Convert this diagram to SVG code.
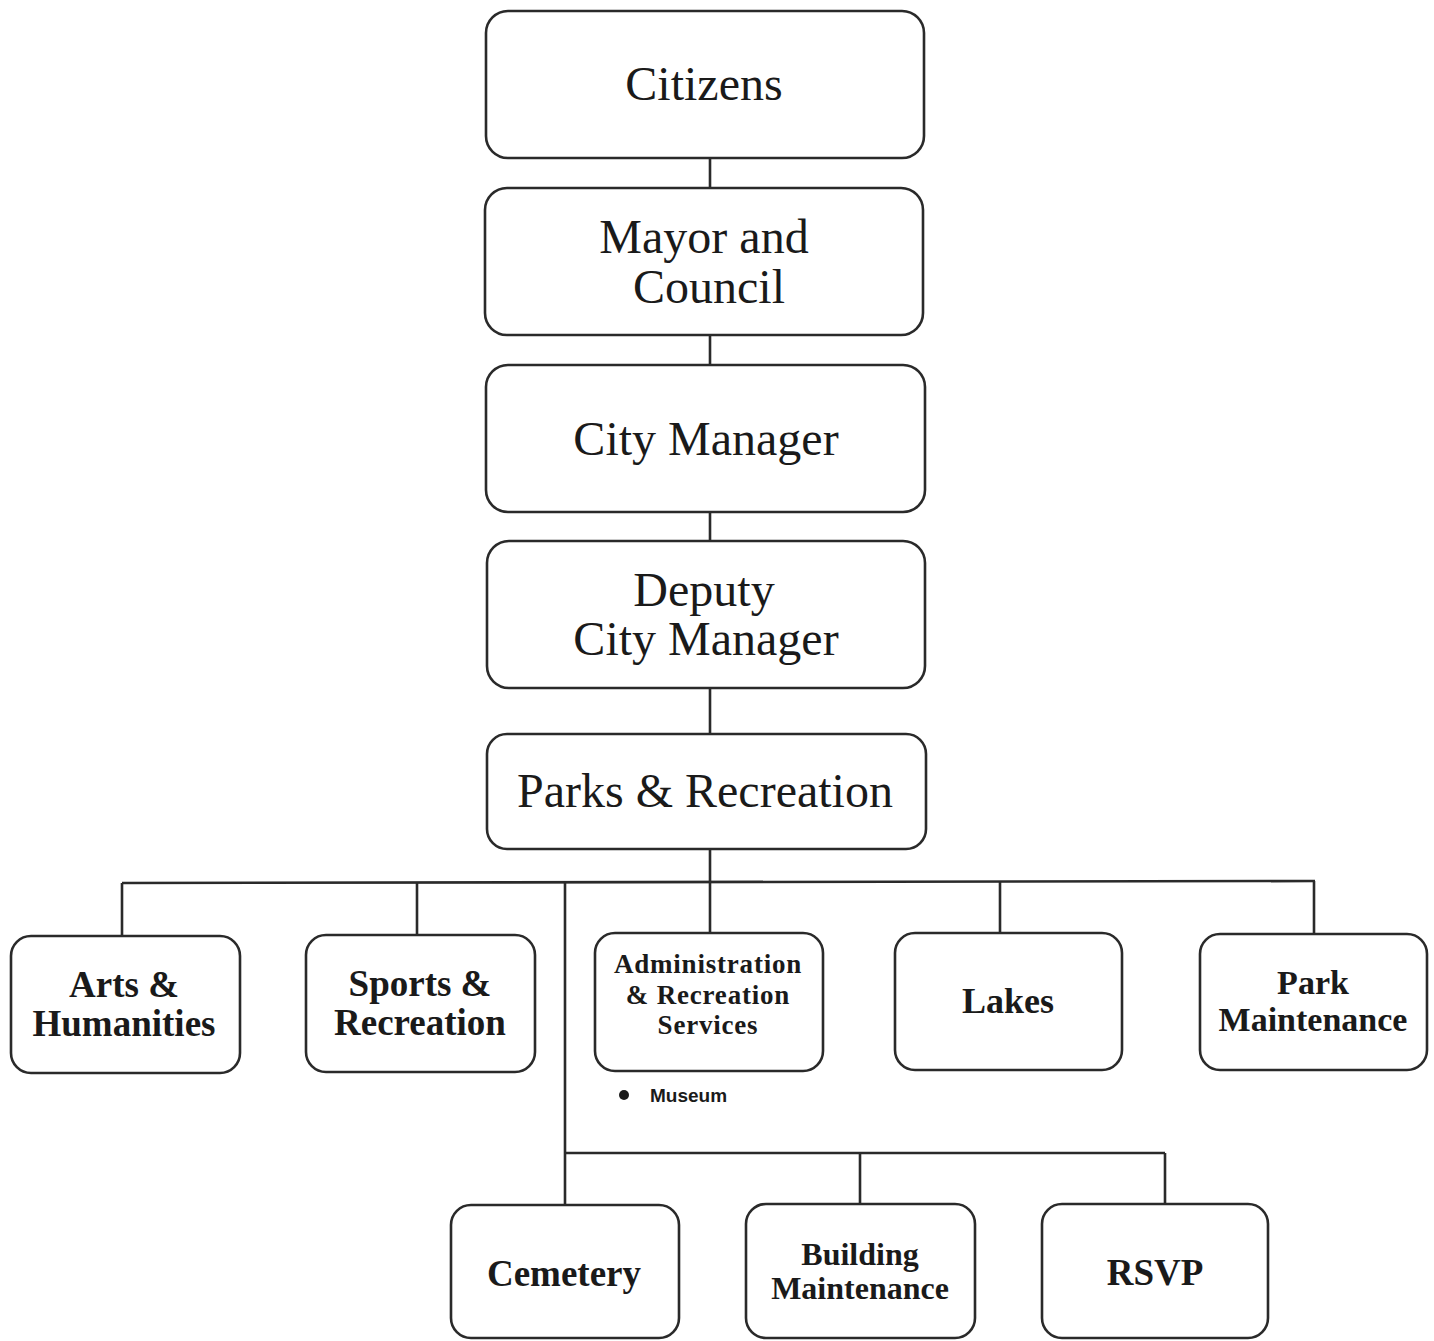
<svg xmlns="http://www.w3.org/2000/svg" width="1434" height="1341" viewBox="0 0 1434 1341">
  <style>
    .box { fill: #ffffff; stroke: #2a2a2a; stroke-width: 2.6; }
    .wire { fill: none; stroke: #2a2a2a; stroke-width: 2.6; }
    .top { font-family: "Liberation Serif", "Times New Roman", serif; font-size: 48px; fill: #1a1a1a; text-anchor: middle; }
    .sub { font-family: "Liberation Serif", "Times New Roman", serif; font-weight: bold; fill: #1a1a1a; text-anchor: middle; }
    .note { font-family: "Liberation Sans", Arial, sans-serif; font-weight: bold; font-size: 19px; fill: #1a1a1a; }
  </style>
  <rect width="1434" height="1341" fill="#ffffff"/>

  <!-- connectors -->
  <g id="connectors">
    <line class="wire" x1="710" y1="158" x2="710" y2="187"/>
    <line class="wire" x1="710" y1="335" x2="710" y2="365"/>
    <line class="wire" x1="710" y1="512" x2="710" y2="541"/>
    <line class="wire" x1="710" y1="688" x2="710" y2="734"/>
    <line class="wire" x1="710" y1="849" x2="710" y2="882"/>
    <!-- division bus -->
    <line class="wire" x1="122" y1="883" x2="1315" y2="881"/>
    <line class="wire" x1="122" y1="883" x2="122" y2="936"/>
    <line class="wire" x1="417" y1="883" x2="417" y2="935"/>
    <line class="wire" x1="710" y1="882" x2="710" y2="933"/>
    <line class="wire" x1="1000" y1="881" x2="1000" y2="933"/>
    <line class="wire" x1="1314" y1="881" x2="1314" y2="933"/>
    <!-- lower branch -->
    <line class="wire" x1="565" y1="882" x2="565" y2="1205"/>
    <line class="wire" x1="565" y1="1153" x2="1165" y2="1153"/>
    <line class="wire" x1="860" y1="1153" x2="860" y2="1204"/>
    <line class="wire" x1="1165" y1="1153" x2="1165" y2="1204"/>
  </g>

  <g id="citizens">
    <rect class="box" x="486" y="11" width="438" height="147" rx="22"/>
    <text class="top" x="704" y="100">Citizens</text>
  </g>

  <g id="mayor-council">
    <rect class="box" x="485" y="188" width="438" height="147" rx="22"/>
    <text class="top" x="704" y="253">Mayor and</text>
    <text class="top" x="709" y="303">Council</text>
  </g>

  <g id="city-manager">
    <rect class="box" x="486" y="365" width="439" height="147" rx="22"/>
    <text class="top" x="706" y="455">City Manager</text>
  </g>

  <g id="deputy-city-manager">
    <rect class="box" x="487" y="541" width="438" height="147" rx="22"/>
    <text class="top" x="704" y="606">Deputy</text>
    <text class="top" x="706" y="655">City Manager</text>
  </g>

  <g id="parks-recreation">
    <rect class="box" x="487" y="734" width="439" height="115" rx="20"/>
    <text class="top" x="705" y="807">Parks &amp; Recreation</text>
  </g>

  <g id="arts-humanities">
    <rect class="box" x="11" y="936" width="229" height="137" rx="20"/>
    <text class="sub" x="124" y="997" font-size="37">Arts &amp;</text>
    <text class="sub" x="124" y="1036" font-size="37">Humanities</text>
  </g>

  <g id="sports-recreation">
    <rect class="box" x="306" y="935" width="229" height="137" rx="20"/>
    <text class="sub" x="420" y="996" font-size="37">Sports &amp;</text>
    <text class="sub" x="420" y="1035" font-size="37">Recreation</text>
  </g>

  <g id="administration">
    <rect class="box" x="595" y="933" width="228" height="138" rx="20"/>
    <text class="sub" x="708" y="973" font-size="27" letter-spacing="0.8">Administration</text>
    <text class="sub" x="708" y="1004" font-size="27" letter-spacing="0.8">&amp; Recreation</text>
    <text class="sub" x="708" y="1034" font-size="27" letter-spacing="0.8">Services</text>
  </g>

  <g id="museum">
    <circle cx="624" cy="1095" r="5" fill="#1a1a1a"/>
    <text class="note" x="650" y="1102">Museum</text>
  </g>

  <g id="lakes">
    <rect class="box" x="895" y="933" width="227" height="137" rx="20"/>
    <text class="sub" x="1008" y="1013" font-size="36">Lakes</text>
  </g>

  <g id="park-maintenance">
    <rect class="box" x="1200" y="934" width="227" height="136" rx="20"/>
    <text class="sub" x="1313" y="994" font-size="34">Park</text>
    <text class="sub" x="1313" y="1031" font-size="34">Maintenance</text>
  </g>

  <g id="cemetery">
    <rect class="box" x="451" y="1205" width="228" height="133" rx="20"/>
    <text class="sub" x="564" y="1286" font-size="37">Cemetery</text>
  </g>

  <g id="building-maintenance">
    <rect class="box" x="746" y="1204" width="229" height="134" rx="20"/>
    <text class="sub" x="860" y="1265" font-size="32">Building</text>
    <text class="sub" x="860" y="1299" font-size="32">Maintenance</text>
  </g>

  <g id="rsvp">
    <rect class="box" x="1042" y="1204" width="226" height="134" rx="20"/>
    <text class="sub" x="1155" y="1285" font-size="37">RSVP</text>
  </g>
</svg>
